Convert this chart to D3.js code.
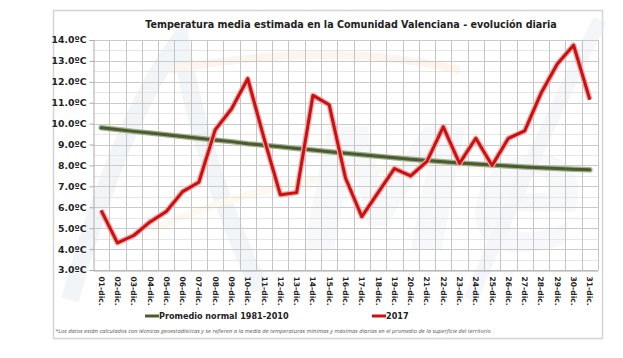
<!DOCTYPE html>
<html>
<head>
<meta charset="utf-8">
<script src="https://cdn.jsdelivr.net/npm/d3@7"></script>
<style>
  body { margin: 0; background: #fff; }
  svg { display: block; }
</style>
</head>
<body>
<svg id="chart" width="623" height="358"></svg>
<script>
// days of december
var days = ["01-dic.","02-dic.","03-dic.","04-dic.","05-dic.","06-dic.","07-dic.","08-dic.","09-dic.","10-dic.",
            "11-dic.","12-dic.","13-dic.","14-dic.","15-dic.","16-dic.","17-dic.","18-dic.","19-dic.","20-dic.",
            "21-dic.","22-dic.","23-dic.","24-dic.","25-dic.","26-dic.","27-dic.","28-dic.","29-dic.","30-dic.","31-dic."];

var normal = [9.80, 9.72, 9.63, 9.55, 9.47, 9.38, 9.30, 9.22, 9.14, 9.04,
              8.97, 8.89, 8.81, 8.74, 8.66, 8.58, 8.51, 8.44, 8.37, 8.30,
              8.24, 8.18, 8.12, 8.07, 8.02, 7.97, 7.93, 7.89, 7.85, 7.82, 7.79];

var y2017 = [5.85, 4.3, 4.65, 5.3, 5.8, 6.75, 7.2, 9.7, 10.7, 12.15,
             9.3, 6.6, 6.7, 11.35, 10.9, 7.4, 5.55, 6.7, 7.85, 7.5,
             8.2, 9.85, 8.1, 9.3, 8.0, 9.3, 9.65, 11.45, 12.85, 13.75, 11.15];

var yTicks = [3, 4, 5, 6, 7, 8, 9, 10, 11, 12, 13, 14];
var yMinor = [3.5, 4.5, 5.5, 6.5, 7.5, 8.5, 9.5, 10.5, 11.5, 12.5, 13.5];

var svg = d3.select("#chart");
var bold = "'DejaVu Sans', Verdana, sans-serif";

// outer frame
svg.append("rect").attr("x", 53.5).attr("y", 10.5).attr("width", 549).attr("height", 328)
   .attr("fill", "#fff").attr("stroke", "#d4d4d4").attr("stroke-width", 1.5);

// faint watermark (logo in the background)
var wm = svg.append("g").attr("opacity", 0.35).attr("fill", "none");
wm.append("path").attr("d", "M70,300 Q120,120 180,40 Q200,160 260,290")
  .attr("stroke", "#dbe3ec").attr("stroke-width", 18);
wm.append("path").attr("d", "M150,230 Q330,150 560,170")
  .attr("stroke", "#fbefcf").attr("stroke-width", 7);
wm.append("path").attr("d", "M170,70 Q330,40 460,70")
  .attr("stroke", "#fbe2d0").attr("stroke-width", 8);
wm.append("text").attr("x", 300).attr("y", 250).attr("font-family", bold).attr("font-style", "italic")
  .attr("font-weight", "bold").attr("font-size", 170).attr("fill", "#e6ecf2").text("Me");
wm.append("path").attr("d", "M470,300 Q530,160 600,20")
  .attr("stroke", "#e0e7ee").attr("stroke-width", 14);

var x = d3.scaleBand().domain(days).range([93, 598]);
var y = d3.scaleLinear().domain([3, 14]).range([270, 40]);

// grid
var grid = svg.append("g");
grid.selectAll("line.minor").data(yMinor).enter().append("line")
    .attr("x1", 93).attr("x2", 598).attr("y1", function(d) { return Math.round(y(d)) + 0.5; })
    .attr("y2", function(d) { return Math.round(y(d)) + 0.5; })
    .attr("stroke", "#e6e6e6").attr("stroke-width", 1);
grid.selectAll("line.major").data(yTicks).enter().append("line")
    .attr("x1", 93).attr("x2", 598).attr("y1", function(d) { return Math.round(y(d)) + 0.5; })
    .attr("y2", function(d) { return Math.round(y(d)) + 0.5; })
    .attr("stroke", "#cacaca").attr("stroke-width", 1);
grid.selectAll("line.vert").data(days).enter().append("line")
    .attr("x1", function(d) { return Math.round(x(d) + x.step()) + 0.5; })
    .attr("x2", function(d) { return Math.round(x(d) + x.step()) + 0.5; })
    .attr("y1", 40).attr("y2", 270).attr("stroke", "#c4c4c4").attr("stroke-width", 1);

// y axis
var yAxis = svg.append("g").attr("transform", "translate(93.5,0)")
  .call(d3.axisLeft(y).tickValues(yTicks).tickSize(4).tickPadding(3)
        .tickFormat(function(d) { return d3.format(".1f")(d) + "ºC"; }));
yAxis.select(".domain").attr("stroke", "#aaa");
yAxis.selectAll(".tick line").attr("stroke", "#aaa");
yAxis.selectAll("text").attr("font-family", bold).attr("font-weight", "bold")
     .attr("font-size", 9.3).attr("fill", "#222");

// x axis
var xAxis = svg.append("g").attr("transform", "translate(0,270.5)")
  .call(d3.axisBottom(x).tickSize(0).tickPadding(0));
xAxis.select(".domain").attr("stroke", "#aaa");
xAxis.selectAll("text").attr("font-family", bold).attr("font-weight", "bold")
     .attr("font-size", 7.6).attr("fill", "#222")
     .attr("text-anchor", "start").attr("dy", null)
     .attr("transform", "translate(-2.5,6) rotate(90)");

// lines
var line = d3.line().x(function(d, i) { return x(days[i]) + x.bandwidth() / 2; }).y(function(d) { return y(d); });

svg.append("path").datum(normal).attr("d", line).attr("fill", "none")
   .attr("stroke", "#a3b094").attr("stroke-width", 5.5).attr("stroke-linecap", "round");
svg.append("path").datum(normal).attr("d", line).attr("fill", "none")
   .attr("stroke", "#4b5b2c").attr("stroke-width", 3).attr("stroke-linecap", "round");

svg.append("path").datum(y2017).attr("d", line).attr("fill", "none")
   .attr("stroke", "#eca8a8").attr("stroke-width", 5.5).attr("stroke-linejoin", "round");
svg.append("path").datum(y2017).attr("d", line).attr("fill", "none")
   .attr("stroke", "#cc1010").attr("stroke-width", 3).attr("stroke-linejoin", "round");

// title
svg.append("text").attr("x", 351).attr("y", 28).attr("text-anchor", "middle")
   .attr("font-family", bold).attr("font-weight", "bold").attr("font-size", 9.6).attr("fill", "#222")
   .text("Temperatura media estimada en la Comunidad Valenciana - evolución diaria");

// legend
var legend = [
  {name: "Promedio normal 1981-2010", color: "#4b5b2c", x: 145},
  {name: "2017", color: "#cc1010", x: 372}
];
var lg = svg.selectAll("g.leg").data(legend).enter().append("g")
  .attr("transform", function(d) { return "translate(" + d.x + ",316)"; });
lg.append("line").attr("x1", 0).attr("x2", 14).attr("y1", 0).attr("y2", 0)
  .attr("stroke", function(d) { return d.color; }).attr("stroke-width", 3);
lg.append("text").attr("x", 14).attr("y", 3).attr("font-family", bold).attr("font-weight", "bold")
  .attr("font-size", 8.1).attr("fill", "#222").text(function(d) { return d.name; });

// footnote
svg.append("text").attr("x", 55).attr("y", 333).attr("font-family", "'Open Sans', sans-serif")
   .attr("font-style", "italic").attr("font-size", 5.8).attr("fill", "#555")
   .text("*Los datos están calculados con técnicas geoestadísticas y se refieren a la media de temperaturas mínimas y máximas diarias en el promedio de la superficie del territorio");
</script>
</body>
</html>
